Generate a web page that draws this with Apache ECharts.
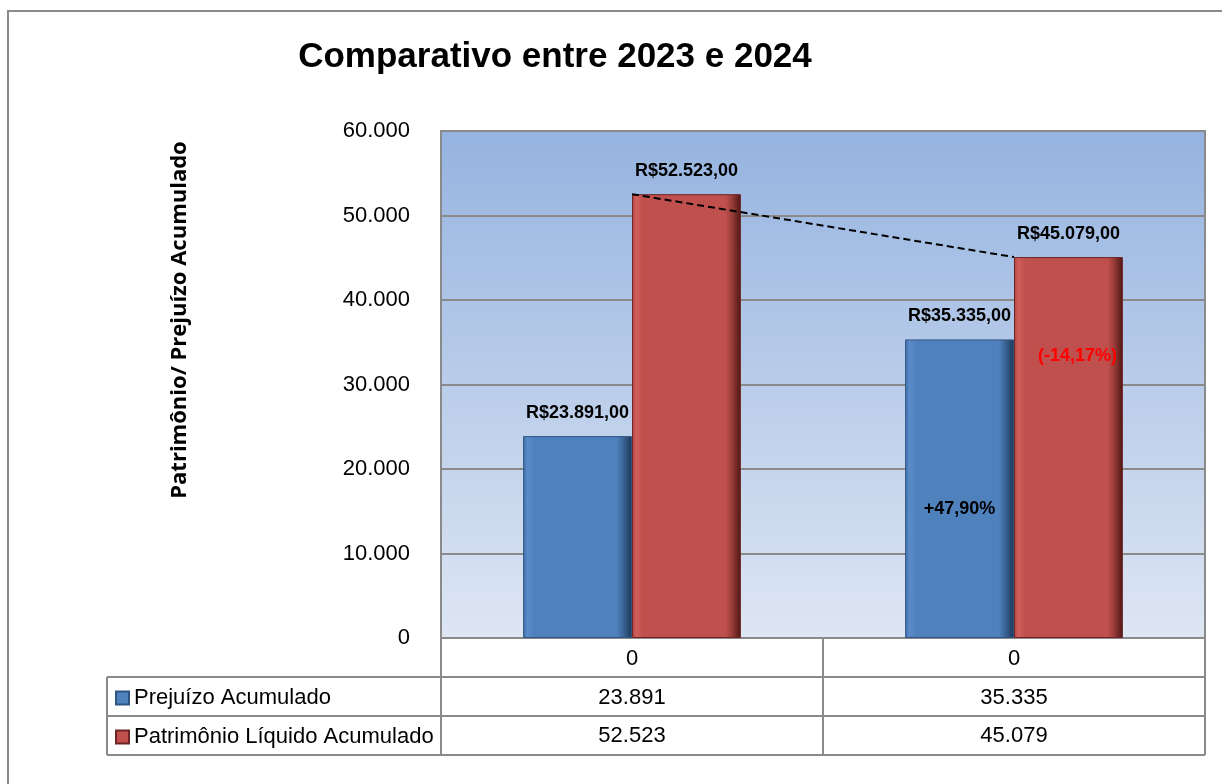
<!DOCTYPE html>
<html>
<head>
<meta charset="utf-8">
<script src="https://cdn.jsdelivr.net/npm/echarts@6/dist/echarts.min.js"></script>
<style>html,body{margin:0;padding:0;background:#fff}#c{width:1222px;height:784px}</style>
</head>
<body>
<div id="c"></div>
<script>
const titleText = 'Comparativo entre 2023 e 2024';
const yAxisTitle = 'Patrimônio/ Prejuízo Acumulado';
const categories = ['0', '0'];
const seriesNames = ['Prejuízo Acumulado', 'Patrimônio Líquido Acumulado'];
const prejuizo = [23891, 35335];
const patrimonio = [52523, 45079];
const yTicks = [0, 10000, 20000, 30000, 40000, 50000, 60000];
const changeLabels = ['+47,90%', '(-14,17%)'];

function fmtThousands(v) {
  const s = String(Math.round(v));
  return s.replace(/\B(?=(\d{3})+(?!\d))/g, '.');
}
function fmtMoney(v) { return 'R$' + fmtThousands(v) + ',00'; }

const FONT = '"Liberation Sans", Arial, sans-serif';
const G = { left: 441, right: 17, top: 131, bottom: 146 };
const W = 1222, H = 784;
const plotR = W - G.right, plotB = H - G.bottom;
const rowH = 39;

function hGrad(stops) {
  return new echarts.graphic.LinearGradient(0, 0, 1, 0, stops.map(c => ({ offset: c[0], color: c[1] })));
}
const blueFill = hGrad([[0, '#3f6ea8'], [0.04, '#5a8bc8'], [0.1, '#4f81bd'], [0.86, '#4f81bd'], [0.92, '#3b6495'], [1, '#1e3656']]);
const redFill = hGrad([[0, '#b0443f'], [0.04, '#d05f5b'], [0.1, '#c0504d'], [0.86, '#c0504d'], [0.92, '#973c39'], [1, '#4e1513']]);

const lineStyle = { stroke: '#8a8a8a', lineWidth: 2 };
const midX = (G.left + plotR) / 2;
const tableLines = [
  [G.left, plotB, G.left, plotB + 3 * rowH],
  [midX, plotB, midX, plotB + 3 * rowH],
  [plotR, plotB, plotR, plotB + 3 * rowH],
  [107, plotB + rowH, 107, plotB + 3 * rowH],
  [107, plotB + rowH, plotR, plotB + rowH],
  [107, plotB + 2 * rowH, plotR, plotB + 2 * rowH],
  [107, plotB + 3 * rowH, plotR, plotB + 3 * rowH]
].map(p => ({ type: 'line', shape: { x1: p[0], y1: p[1], x2: p[2], y2: p[3] }, style: lineStyle, z: 10 }));

const chart = echarts.init(document.getElementById('c'), null, { renderer: 'canvas' });
chart.setOption({
  animation: false,
  backgroundColor: '#fff',
  title: {
    text: titleText, left: 555, top: 40, textAlign: 'center', padding: 0,
    textStyle: { fontFamily: FONT, fontWeight: 'bold', fontSize: 35, color: '#000' }
  },
  legend: {
    data: seriesNames, orient: 'vertical', left: 115, top: 686, padding: 0,
    itemWidth: 13, itemHeight: 13, itemGap: 15, icon: 'rect',
    textStyle: { fontFamily: FONT, fontSize: 22, color: '#000', lineHeight: 24 }
  },
  grid: {
    left: G.left, right: G.right, top: G.top, bottom: G.bottom, show: true,
    borderColor: '#8a8a8a', borderWidth: 2,
    backgroundColor: new echarts.graphic.LinearGradient(0, 0, 0, 1, [
      { offset: 0, color: '#95b3e0' }, { offset: 1, color: '#dee6f3' }
    ])
  },
  xAxis: [
    { type: 'category', data: categories, axisLine: { show: false }, axisTick: { show: false },
      axisLabel: { fontFamily: FONT, fontSize: 22, color: '#000', margin: 10 } },
    { type: 'category', data: prejuizo.map(fmtThousands), position: 'bottom', offset: rowH,
      axisLine: { show: false }, axisTick: { show: false },
      axisLabel: { fontFamily: FONT, fontSize: 22, color: '#000', margin: 10 } },
    { type: 'category', data: patrimonio.map(fmtThousands), position: 'bottom', offset: 2 * rowH,
      axisLine: { show: false }, axisTick: { show: false },
      axisLabel: { fontFamily: FONT, fontSize: 22, color: '#000', margin: 9 } }
  ],
  yAxis: {
    type: 'value', min: yTicks[0], max: yTicks[yTicks.length - 1], interval: yTicks[1] - yTicks[0],
    axisLine: { show: false }, axisTick: { show: false },
    axisLabel: { fontFamily: FONT, fontSize: 22, color: '#000', margin: 31, formatter: v => fmtThousands(v) },
    splitLine: { lineStyle: { color: '#8a8a8a', width: 2 } }
  },
  series: [
    { name: seriesNames[0], type: 'bar', data: prejuizo, barGap: '0%', barCategoryGap: '43%',
      itemStyle: { color: blueFill, borderColor: '#2f5583', borderWidth: 1 },
      label: { show: true, position: 'top', distance: 14, formatter: p => fmtMoney(p.value),
        fontFamily: FONT, fontWeight: 'bold', fontSize: 18, color: '#000' },
      markPoint: { symbol: 'rect', symbolSize: 0, silent: true,
        label: { show: true, position: 'inside', formatter: changeLabels[0], fontFamily: FONT, fontWeight: 'bold', fontSize: 18, color: '#000' },
        data: [{ coord: [1, 15300] }] }
    },
    { name: seriesNames[1], type: 'bar', data: patrimonio,
      itemStyle: { color: redFill, borderColor: '#6d2422', borderWidth: 1 },
      label: { show: true, position: 'top', distance: 14, formatter: p => fmtMoney(p.value),
        fontFamily: FONT, fontWeight: 'bold', fontSize: 18, color: '#000' },
      markPoint: { symbol: 'rect', symbolSize: 0, silent: true,
        label: { show: true, position: 'inside', offset: [9, 0], formatter: changeLabels[1], fontFamily: FONT, fontWeight: 'bold', fontSize: 18, color: '#ff0000' },
        data: [{ coord: [1, 33400] }] }
    },
    { name: 'trend', type: 'line', data: patrimonio, symbol: 'none', silent: true, z: 5,
      lineStyle: { color: '#000', width: 2, type: [7, 4] } }
  ],
  graphic: [
    { type: 'rect', shape: { x: 8, y: 11, width: 1300, height: 900 }, style: { fill: 'none', stroke: '#8a8a8a', lineWidth: 2 }, z: 0, silent: true },
    { type: 'text', x: 180, y: 320, rotation: Math.PI / 2,
      style: { text: yAxisTitle, fontFamily: '"Open Sans", "Noto Sans", sans-serif', fontWeight: 'bold', fontSize: 22, fill: '#000', align: 'center', verticalAlign: 'middle' } }
  ].concat(tableLines)
});
</script>
</body>
</html>
